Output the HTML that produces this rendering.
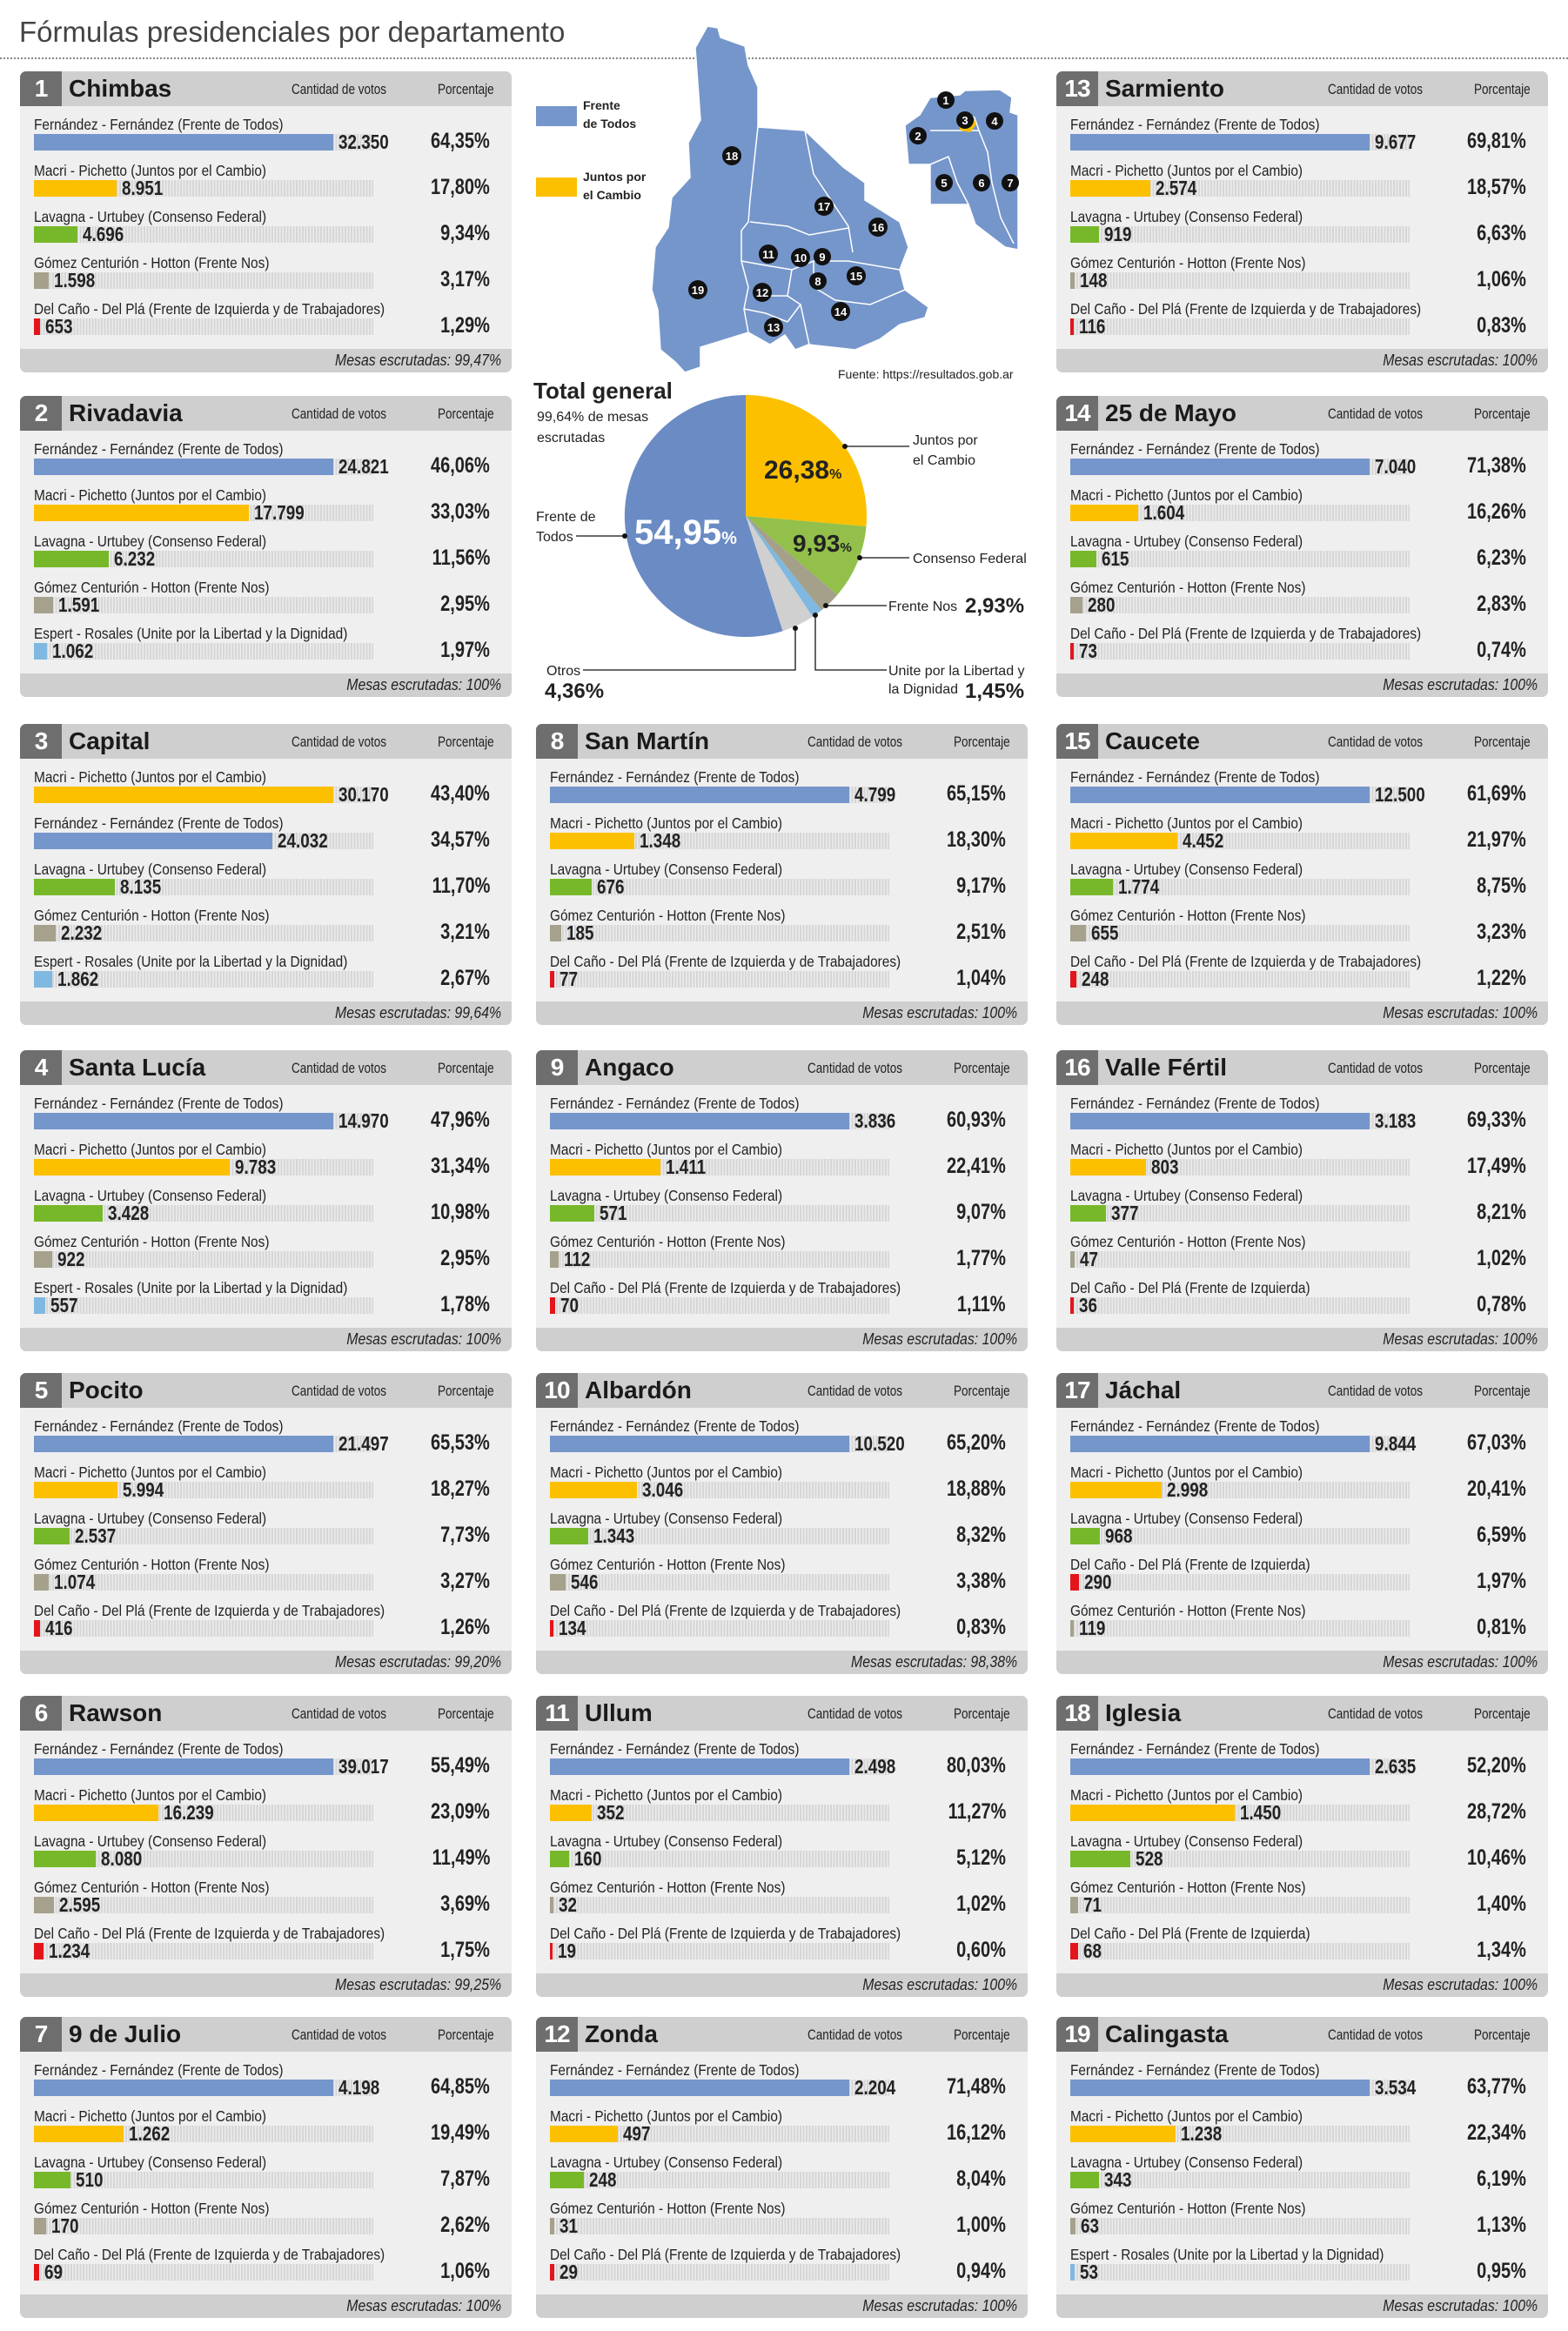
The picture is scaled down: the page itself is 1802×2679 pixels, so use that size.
<!DOCTYPE html>
<html><head><meta charset="utf-8">
<style>
*{margin:0;padding:0;box-sizing:border-box}
body{width:1802px;height:2679px;background:#fff;position:relative;font-family:"Liberation Sans",sans-serif;color:#222;overflow:hidden}
.title{position:absolute;left:22px;top:18px;font-size:33px;color:#444;white-space:nowrap}
.dots{position:absolute;left:0;top:66px;width:1802px;border-top:2px dotted #888}
.p{position:absolute;width:565px;height:346px;background:#efefef;border-radius:7px;overflow:hidden}
.h{position:absolute;left:0;top:0;width:565px;height:40px;background:#cfcfcf}
.n{position:absolute;left:0;top:0;width:48px;height:40px;background:#6e6e6e;color:#fff;font-weight:bold;font-size:28px;line-height:40px;text-align:center;letter-spacing:-1px}
.t{position:absolute;left:56px;top:0;line-height:40px;font-size:28px;font-weight:bold;color:#1a1a1a;white-space:nowrap}
.cv{position:absolute;left:312px;top:0;line-height:42px;font-size:16.5px;color:#222;transform:scaleX(.82);transform-origin:left;white-space:nowrap}
.pc{position:absolute;left:480px;top:0;line-height:42px;font-size:16.5px;color:#222;transform:scaleX(.82);transform-origin:left;white-space:nowrap}
.r{position:absolute;left:16px;width:524px;height:45px}
.l{position:absolute;left:0;top:-1px;font-size:17.5px;line-height:19px;white-space:nowrap;color:#222;transform:scaleX(.88);transform-origin:left}
.g{position:absolute;left:0;top:19px;width:390px;height:19px;background:repeating-linear-gradient(90deg,#d6d6d6 0 2px,#ececec 2px 3.5px)}
.b{position:absolute;left:0;top:19px;height:19px}
.v{position:absolute;top:16px;font-size:23px;font-weight:bold;line-height:25px;white-space:nowrap;color:#222;transform:scaleX(.82);transform-origin:left}
.q{position:absolute;right:0;top:13px;font-size:25px;font-weight:bold;line-height:28px;color:#222;transform:scaleX(.8);transform-origin:right;white-space:nowrap}
.f{position:absolute;left:0;bottom:0;width:565px;height:27px;background:#cfcfcf;font-style:italic;font-size:18px;line-height:27px;color:#222}
.f span{position:absolute;right:12px;top:0;transform:scaleX(.88);transform-origin:right;white-space:nowrap}
.cf{background:#7596cb}.cm{background:#fcc000}.cl{background:#77b82a}.cg{background:#a6a18c}.cd{background:#e3151b}.ce{background:#7fb8e0}
</style></head><body>
<div class="title">Fórmulas presidenciales por departamento</div>
<div class="dots"></div>

<svg style="position:absolute;left:0;top:0" width="1802" height="830">
<g fill="#7596cb" stroke="#fff" stroke-width="1.5">
<polygon points="813,30 825,32 828,43 856,53 860,75 871,100 871,146 925,150 969,192 994,210 994,230 1034,255 1044,284 1034,310 1040,333 1067,353 1063,365 1034,373 1011,390 983,402 929,396 914,402 902,385 885,396 860,382 805,399 805,422 787,428 776,416 759,402 756,356 749,333 753,284 768,261 772,227 793,204 791,164 805,138 799,55"/>
<polygon points="1069,112 1103,109 1109,104 1149,103 1163,112 1161,129 1170,132 1170,287 1155,284 1121,258 1113,235 1069,235 1069,189 1044,189 1040,144 1057,132"/>
</g>
<g fill="none" stroke="#fff" stroke-width="1.5">
<polyline points="871,146 862,230 860,255 852,265 852,300 860,330 855,355 860,382"/>
<polyline points="925,150 935,200 975,260 980,290"/>
<polyline points="862,255 905,260 930,270 975,262"/>
<polyline points="852,300 880,305 910,310 935,300 975,300 1034,310"/>
<polyline points="910,310 905,340 920,350 905,370"/>
<polyline points="935,300 935,330 960,345 1000,350 1040,333"/>
<polyline points="905,340 870,340"/>
<polyline points="920,350 930,396"/>
<polyline points="855,355 880,360 905,370"/>
<polyline points="1069,150 1100,150 1125,150 1135,175 1140,210 1150,250 1165,280"/>
<polyline points="1069,189 1090,180 1100,210 1113,235"/>
<polyline points="1125,150 1120,135 1109,130"/>
</g>
<polygon points="1100,140 1108,133 1118,135 1122,143 1115,152 1104,150" fill="#fcc000"/>
<g font-family="Liberation Sans" font-weight="bold" font-size="13" fill="#fff" text-anchor="middle">
<circle cx="841" cy="179" r="11" fill="#111"/><text x="841" y="184">18</text>
<circle cx="947" cy="237" r="11" fill="#111"/><text x="947" y="242">17</text>
<circle cx="1009" cy="261" r="11" fill="#111"/><text x="1009" y="266">16</text>
<circle cx="883" cy="292" r="11" fill="#111"/><text x="883" y="297">11</text>
<circle cx="920" cy="296" r="11" fill="#111"/><text x="920" y="301">10</text>
<circle cx="945" cy="295" r="10" fill="#111"/><text x="945" y="300">9</text>
<circle cx="940" cy="323" r="10" fill="#111"/><text x="940" y="328">8</text>
<circle cx="984" cy="317" r="11" fill="#111"/><text x="984" y="322">15</text>
<circle cx="876" cy="336" r="11" fill="#111"/><text x="876" y="341">12</text>
<circle cx="802" cy="333" r="11" fill="#111"/><text x="802" y="338">19</text>
<circle cx="966" cy="358" r="11" fill="#111"/><text x="966" y="363">14</text>
<circle cx="889" cy="376" r="11" fill="#111"/><text x="889" y="381">13</text>
<circle cx="1087" cy="115" r="10" fill="#111"/><text x="1087" y="120">1</text>
<circle cx="1055" cy="156" r="10" fill="#111"/><text x="1055" y="161">2</text>
<circle cx="1109" cy="138" r="10" fill="#111"/><text x="1109" y="143">3</text>
<circle cx="1143" cy="139" r="10" fill="#111"/><text x="1143" y="144">4</text>
<circle cx="1085" cy="210" r="10" fill="#111"/><text x="1085" y="215">5</text>
<circle cx="1128" cy="210" r="10" fill="#111"/><text x="1128" y="215">6</text>
<circle cx="1161" cy="210" r="10" fill="#111"/><text x="1161" y="215">7</text>
</g>
<rect x="616" y="122" width="47" height="23" fill="#7596cb"/>
<rect x="616" y="204" width="47" height="22" fill="#fcc000"/>
<g font-family="Liberation Sans" font-weight="bold" font-size="14" fill="#222">
<text x="670" y="126">Frente</text><text x="670" y="147">de Todos</text>
<text x="670" y="208">Juntos por</text><text x="670" y="229">el Cambio</text>
</g>
<text x="963" y="435" font-family="Liberation Sans" font-size="14" fill="#222">Fuente: https://resultados.gob.ar</text>
<path d="M857,593 L857,454 A139,139 0 0 1 995.5,605 Z" fill="#fcc000"/>
<path d="M857,593 L995.5,605 A139,139 0 0 1 962.3,683.7 Z" fill="#92c04a"/>
<path d="M857,593 L962.3,683.7 A139,139 0 0 1 944,701.4 Z" fill="#a4a08a"/>
<path d="M857,593 L944,701.4 A139,139 0 0 1 933.8,708.9 Z" fill="#7fb8e0"/>
<path d="M857,593 L933.8,708.9 A139,139 0 0 1 899.5,725.3 Z" fill="#d0d0d0"/>
<path d="M857,593 L899.5,725.3 A139,139 0 1 1 857,454 Z" fill="#6a8bc3"/>
<g stroke="#111" stroke-width="1.3" fill="none">
<polyline points="971,513 1045,513"/>
<polyline points="988,641 1045,641"/>
<polyline points="662,616 718,616"/>
<polyline points="949,696 1019,696"/>
<polyline points="937,707 937,770 1019,770"/>
<polyline points="914,722 914,770 670,770"/>
</g>
<g fill="#111"><circle cx="971" cy="513" r="3"/><circle cx="988" cy="641" r="3"/><circle cx="718" cy="616" r="3"/><circle cx="949" cy="696" r="3"/><circle cx="937" cy="707" r="3"/><circle cx="914" cy="722" r="3"/></g>
<g font-family="Liberation Sans" fill="#222">
<text x="613" y="458" font-size="26" font-weight="bold">Total general</text>
<text x="617" y="484" font-size="16">99,64% de mesas</text>
<text x="617" y="508" font-size="16">escrutadas</text>
<text x="1049" y="511" font-size="16">Juntos por</text>
<text x="1049" y="534" font-size="16">el Cambio</text>
<text x="1049" y="647" font-size="16">Consenso Federal</text>
<text x="616" y="599" font-size="16">Frente de</text>
<text x="616" y="622" font-size="16">Todos</text>
<text x="1021" y="702" font-size="16">Frente Nos</text>
<text x="1109" y="704" font-size="24" font-weight="bold">2,93%</text>
<text x="1021" y="776" font-size="16">Unite por la Libertad y</text>
<text x="1021" y="797" font-size="16">la Dignidad</text>
<text x="1109" y="802" font-size="24" font-weight="bold">1,45%</text>
<text x="628" y="776" font-size="16">Otros</text>
<text x="626" y="802" font-size="24" font-weight="bold">4,36%</text>
<text x="878" y="550" font-size="30" font-weight="bold">26,38<tspan font-size="16">%</tspan></text>
<text x="911" y="634" font-size="28" font-weight="bold">9,93<tspan font-size="15">%</tspan></text>
<text x="729" y="625" font-size="40" font-weight="bold" fill="#fff">54,95<tspan font-size="20">%</tspan></text>
</g>
</svg>

<div class="p" style="left:23px;top:82px"><div class="h"></div><div class="n">1</div><div class="t">Chimbas</div><div class="cv">Cantidad de votos</div><div class="pc">Porcentaje</div>
<div class="r" style="top:53px"><div class="l">Fernández - Fernández (Frente de Todos)</div><div class="g"></div><div class="b cf" style="width:344px"></div><div class="v" style="left:350px">32.350</div><div class="q">64,35%</div></div>
<div class="r" style="top:106px"><div class="l">Macri - Pichetto (Juntos por el Cambio)</div><div class="g"></div><div class="b cm" style="width:95px"></div><div class="v" style="left:101px">8.951</div><div class="q">17,80%</div></div>
<div class="r" style="top:159px"><div class="l">Lavagna - Urtubey (Consenso Federal)</div><div class="g"></div><div class="b cl" style="width:50px"></div><div class="v" style="left:56px">4.696</div><div class="q">9,34%</div></div>
<div class="r" style="top:212px"><div class="l">Gómez Centurión - Hotton (Frente Nos)</div><div class="g"></div><div class="b cg" style="width:17px"></div><div class="v" style="left:23px">1.598</div><div class="q">3,17%</div></div>
<div class="r" style="top:265px"><div class="l">Del Caño - Del Plá (Frente de Izquierda y de Trabajadores)</div><div class="g"></div><div class="b cd" style="width:7px"></div><div class="v" style="left:13px">653</div><div class="q">1,29%</div></div>
<div class="f"><span>Mesas escrutadas: 99,47%</span></div></div>

<div class="p" style="left:23px;top:455px"><div class="h"></div><div class="n">2</div><div class="t">Rivadavia</div><div class="cv">Cantidad de votos</div><div class="pc">Porcentaje</div>
<div class="r" style="top:53px"><div class="l">Fernández - Fernández (Frente de Todos)</div><div class="g"></div><div class="b cf" style="width:344px"></div><div class="v" style="left:350px">24.821</div><div class="q">46,06%</div></div>
<div class="r" style="top:106px"><div class="l">Macri - Pichetto (Juntos por el Cambio)</div><div class="g"></div><div class="b cm" style="width:247px"></div><div class="v" style="left:253px">17.799</div><div class="q">33,03%</div></div>
<div class="r" style="top:159px"><div class="l">Lavagna - Urtubey (Consenso Federal)</div><div class="g"></div><div class="b cl" style="width:86px"></div><div class="v" style="left:92px">6.232</div><div class="q">11,56%</div></div>
<div class="r" style="top:212px"><div class="l">Gómez Centurión - Hotton (Frente Nos)</div><div class="g"></div><div class="b cg" style="width:22px"></div><div class="v" style="left:28px">1.591</div><div class="q">2,95%</div></div>
<div class="r" style="top:265px"><div class="l">Espert - Rosales (Unite por la Libertad y la Dignidad)</div><div class="g"></div><div class="b ce" style="width:15px"></div><div class="v" style="left:21px">1.062</div><div class="q">1,97%</div></div>
<div class="f"><span>Mesas escrutadas: 100%</span></div></div>

<div class="p" style="left:23px;top:832px"><div class="h"></div><div class="n">3</div><div class="t">Capital</div><div class="cv">Cantidad de votos</div><div class="pc">Porcentaje</div>
<div class="r" style="top:53px"><div class="l">Macri - Pichetto (Juntos por el Cambio)</div><div class="g"></div><div class="b cm" style="width:344px"></div><div class="v" style="left:350px">30.170</div><div class="q">43,40%</div></div>
<div class="r" style="top:106px"><div class="l">Fernández - Fernández (Frente de Todos)</div><div class="g"></div><div class="b cf" style="width:274px"></div><div class="v" style="left:280px">24.032</div><div class="q">34,57%</div></div>
<div class="r" style="top:159px"><div class="l">Lavagna - Urtubey (Consenso Federal)</div><div class="g"></div><div class="b cl" style="width:93px"></div><div class="v" style="left:99px">8.135</div><div class="q">11,70%</div></div>
<div class="r" style="top:212px"><div class="l">Gómez Centurión - Hotton (Frente Nos)</div><div class="g"></div><div class="b cg" style="width:25px"></div><div class="v" style="left:31px">2.232</div><div class="q">3,21%</div></div>
<div class="r" style="top:265px"><div class="l">Espert - Rosales (Unite por la Libertad y la Dignidad)</div><div class="g"></div><div class="b ce" style="width:21px"></div><div class="v" style="left:27px">1.862</div><div class="q">2,67%</div></div>
<div class="f"><span>Mesas escrutadas: 99,64%</span></div></div>

<div class="p" style="left:23px;top:1207px"><div class="h"></div><div class="n">4</div><div class="t">Santa Lucía</div><div class="cv">Cantidad de votos</div><div class="pc">Porcentaje</div>
<div class="r" style="top:53px"><div class="l">Fernández - Fernández (Frente de Todos)</div><div class="g"></div><div class="b cf" style="width:344px"></div><div class="v" style="left:350px">14.970</div><div class="q">47,96%</div></div>
<div class="r" style="top:106px"><div class="l">Macri - Pichetto (Juntos por el Cambio)</div><div class="g"></div><div class="b cm" style="width:225px"></div><div class="v" style="left:231px">9.783</div><div class="q">31,34%</div></div>
<div class="r" style="top:159px"><div class="l">Lavagna - Urtubey (Consenso Federal)</div><div class="g"></div><div class="b cl" style="width:79px"></div><div class="v" style="left:85px">3.428</div><div class="q">10,98%</div></div>
<div class="r" style="top:212px"><div class="l">Gómez Centurión - Hotton (Frente Nos)</div><div class="g"></div><div class="b cg" style="width:21px"></div><div class="v" style="left:27px">922</div><div class="q">2,95%</div></div>
<div class="r" style="top:265px"><div class="l">Espert - Rosales (Unite por la Libertad y la Dignidad)</div><div class="g"></div><div class="b ce" style="width:13px"></div><div class="v" style="left:19px">557</div><div class="q">1,78%</div></div>
<div class="f"><span>Mesas escrutadas: 100%</span></div></div>

<div class="p" style="left:23px;top:1578px"><div class="h"></div><div class="n">5</div><div class="t">Pocito</div><div class="cv">Cantidad de votos</div><div class="pc">Porcentaje</div>
<div class="r" style="top:53px"><div class="l">Fernández - Fernández (Frente de Todos)</div><div class="g"></div><div class="b cf" style="width:344px"></div><div class="v" style="left:350px">21.497</div><div class="q">65,53%</div></div>
<div class="r" style="top:106px"><div class="l">Macri - Pichetto (Juntos por el Cambio)</div><div class="g"></div><div class="b cm" style="width:96px"></div><div class="v" style="left:102px">5.994</div><div class="q">18,27%</div></div>
<div class="r" style="top:159px"><div class="l">Lavagna - Urtubey (Consenso Federal)</div><div class="g"></div><div class="b cl" style="width:41px"></div><div class="v" style="left:47px">2.537</div><div class="q">7,73%</div></div>
<div class="r" style="top:212px"><div class="l">Gómez Centurión - Hotton (Frente Nos)</div><div class="g"></div><div class="b cg" style="width:17px"></div><div class="v" style="left:23px">1.074</div><div class="q">3,27%</div></div>
<div class="r" style="top:265px"><div class="l">Del Caño - Del Plá (Frente de Izquierda y de Trabajadores)</div><div class="g"></div><div class="b cd" style="width:7px"></div><div class="v" style="left:13px">416</div><div class="q">1,26%</div></div>
<div class="f"><span>Mesas escrutadas: 99,20%</span></div></div>

<div class="p" style="left:23px;top:1949px"><div class="h"></div><div class="n">6</div><div class="t">Rawson</div><div class="cv">Cantidad de votos</div><div class="pc">Porcentaje</div>
<div class="r" style="top:53px"><div class="l">Fernández - Fernández (Frente de Todos)</div><div class="g"></div><div class="b cf" style="width:344px"></div><div class="v" style="left:350px">39.017</div><div class="q">55,49%</div></div>
<div class="r" style="top:106px"><div class="l">Macri - Pichetto (Juntos por el Cambio)</div><div class="g"></div><div class="b cm" style="width:143px"></div><div class="v" style="left:149px">16.239</div><div class="q">23,09%</div></div>
<div class="r" style="top:159px"><div class="l">Lavagna - Urtubey (Consenso Federal)</div><div class="g"></div><div class="b cl" style="width:71px"></div><div class="v" style="left:77px">8.080</div><div class="q">11,49%</div></div>
<div class="r" style="top:212px"><div class="l">Gómez Centurión - Hotton (Frente Nos)</div><div class="g"></div><div class="b cg" style="width:23px"></div><div class="v" style="left:29px">2.595</div><div class="q">3,69%</div></div>
<div class="r" style="top:265px"><div class="l">Del Caño - Del Plá (Frente de Izquierda y de Trabajadores)</div><div class="g"></div><div class="b cd" style="width:11px"></div><div class="v" style="left:17px">1.234</div><div class="q">1,75%</div></div>
<div class="f"><span>Mesas escrutadas: 99,25%</span></div></div>

<div class="p" style="left:23px;top:2318px"><div class="h"></div><div class="n">7</div><div class="t">9 de Julio</div><div class="cv">Cantidad de votos</div><div class="pc">Porcentaje</div>
<div class="r" style="top:53px"><div class="l">Fernández - Fernández (Frente de Todos)</div><div class="g"></div><div class="b cf" style="width:344px"></div><div class="v" style="left:350px">4.198</div><div class="q">64,85%</div></div>
<div class="r" style="top:106px"><div class="l">Macri - Pichetto (Juntos por el Cambio)</div><div class="g"></div><div class="b cm" style="width:103px"></div><div class="v" style="left:109px">1.262</div><div class="q">19,49%</div></div>
<div class="r" style="top:159px"><div class="l">Lavagna - Urtubey (Consenso Federal)</div><div class="g"></div><div class="b cl" style="width:42px"></div><div class="v" style="left:48px">510</div><div class="q">7,87%</div></div>
<div class="r" style="top:212px"><div class="l">Gómez Centurión - Hotton (Frente Nos)</div><div class="g"></div><div class="b cg" style="width:14px"></div><div class="v" style="left:20px">170</div><div class="q">2,62%</div></div>
<div class="r" style="top:265px"><div class="l">Del Caño - Del Plá (Frente de Izquierda y de Trabajadores)</div><div class="g"></div><div class="b cd" style="width:6px"></div><div class="v" style="left:12px">69</div><div class="q">1,06%</div></div>
<div class="f"><span>Mesas escrutadas: 100%</span></div></div>

<div class="p" style="left:616px;top:832px"><div class="h"></div><div class="n">8</div><div class="t">San Martín</div><div class="cv">Cantidad de votos</div><div class="pc">Porcentaje</div>
<div class="r" style="top:53px"><div class="l">Fernández - Fernández (Frente de Todos)</div><div class="g"></div><div class="b cf" style="width:344px"></div><div class="v" style="left:350px">4.799</div><div class="q">65,15%</div></div>
<div class="r" style="top:106px"><div class="l">Macri - Pichetto (Juntos por el Cambio)</div><div class="g"></div><div class="b cm" style="width:97px"></div><div class="v" style="left:103px">1.348</div><div class="q">18,30%</div></div>
<div class="r" style="top:159px"><div class="l">Lavagna - Urtubey (Consenso Federal)</div><div class="g"></div><div class="b cl" style="width:48px"></div><div class="v" style="left:54px">676</div><div class="q">9,17%</div></div>
<div class="r" style="top:212px"><div class="l">Gómez Centurión - Hotton (Frente Nos)</div><div class="g"></div><div class="b cg" style="width:13px"></div><div class="v" style="left:19px">185</div><div class="q">2,51%</div></div>
<div class="r" style="top:265px"><div class="l">Del Caño - Del Plá (Frente de Izquierda y de Trabajadores)</div><div class="g"></div><div class="b cd" style="width:5px"></div><div class="v" style="left:11px">77</div><div class="q">1,04%</div></div>
<div class="f"><span>Mesas escrutadas: 100%</span></div></div>

<div class="p" style="left:616px;top:1207px"><div class="h"></div><div class="n">9</div><div class="t">Angaco</div><div class="cv">Cantidad de votos</div><div class="pc">Porcentaje</div>
<div class="r" style="top:53px"><div class="l">Fernández - Fernández (Frente de Todos)</div><div class="g"></div><div class="b cf" style="width:344px"></div><div class="v" style="left:350px">3.836</div><div class="q">60,93%</div></div>
<div class="r" style="top:106px"><div class="l">Macri - Pichetto (Juntos por el Cambio)</div><div class="g"></div><div class="b cm" style="width:127px"></div><div class="v" style="left:133px">1.411</div><div class="q">22,41%</div></div>
<div class="r" style="top:159px"><div class="l">Lavagna - Urtubey (Consenso Federal)</div><div class="g"></div><div class="b cl" style="width:51px"></div><div class="v" style="left:57px">571</div><div class="q">9,07%</div></div>
<div class="r" style="top:212px"><div class="l">Gómez Centurión - Hotton (Frente Nos)</div><div class="g"></div><div class="b cg" style="width:10px"></div><div class="v" style="left:16px">112</div><div class="q">1,77%</div></div>
<div class="r" style="top:265px"><div class="l">Del Caño - Del Plá (Frente de Izquierda y de Trabajadores)</div><div class="g"></div><div class="b cd" style="width:6px"></div><div class="v" style="left:12px">70</div><div class="q">1,11%</div></div>
<div class="f"><span>Mesas escrutadas: 100%</span></div></div>

<div class="p" style="left:616px;top:1578px"><div class="h"></div><div class="n">10</div><div class="t">Albardón</div><div class="cv">Cantidad de votos</div><div class="pc">Porcentaje</div>
<div class="r" style="top:53px"><div class="l">Fernández - Fernández (Frente de Todos)</div><div class="g"></div><div class="b cf" style="width:344px"></div><div class="v" style="left:350px">10.520</div><div class="q">65,20%</div></div>
<div class="r" style="top:106px"><div class="l">Macri - Pichetto (Juntos por el Cambio)</div><div class="g"></div><div class="b cm" style="width:100px"></div><div class="v" style="left:106px">3.046</div><div class="q">18,88%</div></div>
<div class="r" style="top:159px"><div class="l">Lavagna - Urtubey (Consenso Federal)</div><div class="g"></div><div class="b cl" style="width:44px"></div><div class="v" style="left:50px">1.343</div><div class="q">8,32%</div></div>
<div class="r" style="top:212px"><div class="l">Gómez Centurión - Hotton (Frente Nos)</div><div class="g"></div><div class="b cg" style="width:18px"></div><div class="v" style="left:24px">546</div><div class="q">3,38%</div></div>
<div class="r" style="top:265px"><div class="l">Del Caño - Del Plá (Frente de Izquierda y de Trabajadores)</div><div class="g"></div><div class="b cd" style="width:4px"></div><div class="v" style="left:10px">134</div><div class="q">0,83%</div></div>
<div class="f"><span>Mesas escrutadas: 98,38%</span></div></div>

<div class="p" style="left:616px;top:1949px"><div class="h"></div><div class="n">11</div><div class="t">Ullum</div><div class="cv">Cantidad de votos</div><div class="pc">Porcentaje</div>
<div class="r" style="top:53px"><div class="l">Fernández - Fernández (Frente de Todos)</div><div class="g"></div><div class="b cf" style="width:344px"></div><div class="v" style="left:350px">2.498</div><div class="q">80,03%</div></div>
<div class="r" style="top:106px"><div class="l">Macri - Pichetto (Juntos por el Cambio)</div><div class="g"></div><div class="b cm" style="width:48px"></div><div class="v" style="left:54px">352</div><div class="q">11,27%</div></div>
<div class="r" style="top:159px"><div class="l">Lavagna - Urtubey (Consenso Federal)</div><div class="g"></div><div class="b cl" style="width:22px"></div><div class="v" style="left:28px">160</div><div class="q">5,12%</div></div>
<div class="r" style="top:212px"><div class="l">Gómez Centurión - Hotton (Frente Nos)</div><div class="g"></div><div class="b cg" style="width:4px"></div><div class="v" style="left:10px">32</div><div class="q">1,02%</div></div>
<div class="r" style="top:265px"><div class="l">Del Caño - Del Plá (Frente de Izquierda y de Trabajadores)</div><div class="g"></div><div class="b cd" style="width:3px"></div><div class="v" style="left:9px">19</div><div class="q">0,60%</div></div>
<div class="f"><span>Mesas escrutadas: 100%</span></div></div>

<div class="p" style="left:616px;top:2318px"><div class="h"></div><div class="n">12</div><div class="t">Zonda</div><div class="cv">Cantidad de votos</div><div class="pc">Porcentaje</div>
<div class="r" style="top:53px"><div class="l">Fernández - Fernández (Frente de Todos)</div><div class="g"></div><div class="b cf" style="width:344px"></div><div class="v" style="left:350px">2.204</div><div class="q">71,48%</div></div>
<div class="r" style="top:106px"><div class="l">Macri - Pichetto (Juntos por el Cambio)</div><div class="g"></div><div class="b cm" style="width:78px"></div><div class="v" style="left:84px">497</div><div class="q">16,12%</div></div>
<div class="r" style="top:159px"><div class="l">Lavagna - Urtubey (Consenso Federal)</div><div class="g"></div><div class="b cl" style="width:39px"></div><div class="v" style="left:45px">248</div><div class="q">8,04%</div></div>
<div class="r" style="top:212px"><div class="l">Gómez Centurión - Hotton (Frente Nos)</div><div class="g"></div><div class="b cg" style="width:5px"></div><div class="v" style="left:11px">31</div><div class="q">1,00%</div></div>
<div class="r" style="top:265px"><div class="l">Del Caño - Del Plá (Frente de Izquierda y de Trabajadores)</div><div class="g"></div><div class="b cd" style="width:5px"></div><div class="v" style="left:11px">29</div><div class="q">0,94%</div></div>
<div class="f"><span>Mesas escrutadas: 100%</span></div></div>

<div class="p" style="left:1214px;top:82px"><div class="h"></div><div class="n">13</div><div class="t">Sarmiento</div><div class="cv">Cantidad de votos</div><div class="pc">Porcentaje</div>
<div class="r" style="top:53px"><div class="l">Fernández - Fernández (Frente de Todos)</div><div class="g"></div><div class="b cf" style="width:344px"></div><div class="v" style="left:350px">9.677</div><div class="q">69,81%</div></div>
<div class="r" style="top:106px"><div class="l">Macri - Pichetto (Juntos por el Cambio)</div><div class="g"></div><div class="b cm" style="width:92px"></div><div class="v" style="left:98px">2.574</div><div class="q">18,57%</div></div>
<div class="r" style="top:159px"><div class="l">Lavagna - Urtubey (Consenso Federal)</div><div class="g"></div><div class="b cl" style="width:33px"></div><div class="v" style="left:39px">919</div><div class="q">6,63%</div></div>
<div class="r" style="top:212px"><div class="l">Gómez Centurión - Hotton (Frente Nos)</div><div class="g"></div><div class="b cg" style="width:5px"></div><div class="v" style="left:11px">148</div><div class="q">1,06%</div></div>
<div class="r" style="top:265px"><div class="l">Del Caño - Del Plá (Frente de Izquierda y de Trabajadores)</div><div class="g"></div><div class="b cd" style="width:4px"></div><div class="v" style="left:10px">116</div><div class="q">0,83%</div></div>
<div class="f"><span>Mesas escrutadas: 100%</span></div></div>

<div class="p" style="left:1214px;top:455px"><div class="h"></div><div class="n">14</div><div class="t">25 de Mayo</div><div class="cv">Cantidad de votos</div><div class="pc">Porcentaje</div>
<div class="r" style="top:53px"><div class="l">Fernández - Fernández (Frente de Todos)</div><div class="g"></div><div class="b cf" style="width:344px"></div><div class="v" style="left:350px">7.040</div><div class="q">71,38%</div></div>
<div class="r" style="top:106px"><div class="l">Macri - Pichetto (Juntos por el Cambio)</div><div class="g"></div><div class="b cm" style="width:78px"></div><div class="v" style="left:84px">1.604</div><div class="q">16,26%</div></div>
<div class="r" style="top:159px"><div class="l">Lavagna - Urtubey (Consenso Federal)</div><div class="g"></div><div class="b cl" style="width:30px"></div><div class="v" style="left:36px">615</div><div class="q">6,23%</div></div>
<div class="r" style="top:212px"><div class="l">Gómez Centurión - Hotton (Frente Nos)</div><div class="g"></div><div class="b cg" style="width:14px"></div><div class="v" style="left:20px">280</div><div class="q">2,83%</div></div>
<div class="r" style="top:265px"><div class="l">Del Caño - Del Plá (Frente de Izquierda y de Trabajadores)</div><div class="g"></div><div class="b cd" style="width:4px"></div><div class="v" style="left:10px">73</div><div class="q">0,74%</div></div>
<div class="f"><span>Mesas escrutadas: 100%</span></div></div>

<div class="p" style="left:1214px;top:832px"><div class="h"></div><div class="n">15</div><div class="t">Caucete</div><div class="cv">Cantidad de votos</div><div class="pc">Porcentaje</div>
<div class="r" style="top:53px"><div class="l">Fernández - Fernández (Frente de Todos)</div><div class="g"></div><div class="b cf" style="width:344px"></div><div class="v" style="left:350px">12.500</div><div class="q">61,69%</div></div>
<div class="r" style="top:106px"><div class="l">Macri - Pichetto (Juntos por el Cambio)</div><div class="g"></div><div class="b cm" style="width:123px"></div><div class="v" style="left:129px">4.452</div><div class="q">21,97%</div></div>
<div class="r" style="top:159px"><div class="l">Lavagna - Urtubey (Consenso Federal)</div><div class="g"></div><div class="b cl" style="width:49px"></div><div class="v" style="left:55px">1.774</div><div class="q">8,75%</div></div>
<div class="r" style="top:212px"><div class="l">Gómez Centurión - Hotton (Frente Nos)</div><div class="g"></div><div class="b cg" style="width:18px"></div><div class="v" style="left:24px">655</div><div class="q">3,23%</div></div>
<div class="r" style="top:265px"><div class="l">Del Caño - Del Plá (Frente de Izquierda y de Trabajadores)</div><div class="g"></div><div class="b cd" style="width:7px"></div><div class="v" style="left:13px">248</div><div class="q">1,22%</div></div>
<div class="f"><span>Mesas escrutadas: 100%</span></div></div>

<div class="p" style="left:1214px;top:1207px"><div class="h"></div><div class="n">16</div><div class="t">Valle Fértil</div><div class="cv">Cantidad de votos</div><div class="pc">Porcentaje</div>
<div class="r" style="top:53px"><div class="l">Fernández - Fernández (Frente de Todos)</div><div class="g"></div><div class="b cf" style="width:344px"></div><div class="v" style="left:350px">3.183</div><div class="q">69,33%</div></div>
<div class="r" style="top:106px"><div class="l">Macri - Pichetto (Juntos por el Cambio)</div><div class="g"></div><div class="b cm" style="width:87px"></div><div class="v" style="left:93px">803</div><div class="q">17,49%</div></div>
<div class="r" style="top:159px"><div class="l">Lavagna - Urtubey (Consenso Federal)</div><div class="g"></div><div class="b cl" style="width:41px"></div><div class="v" style="left:47px">377</div><div class="q">8,21%</div></div>
<div class="r" style="top:212px"><div class="l">Gómez Centurión - Hotton (Frente Nos)</div><div class="g"></div><div class="b cg" style="width:5px"></div><div class="v" style="left:11px">47</div><div class="q">1,02%</div></div>
<div class="r" style="top:265px"><div class="l">Del Caño - Del Plá (Frente de Izquierda)</div><div class="g"></div><div class="b cd" style="width:4px"></div><div class="v" style="left:10px">36</div><div class="q">0,78%</div></div>
<div class="f"><span>Mesas escrutadas: 100%</span></div></div>

<div class="p" style="left:1214px;top:1578px"><div class="h"></div><div class="n">17</div><div class="t">Jáchal</div><div class="cv">Cantidad de votos</div><div class="pc">Porcentaje</div>
<div class="r" style="top:53px"><div class="l">Fernández - Fernández (Frente de Todos)</div><div class="g"></div><div class="b cf" style="width:344px"></div><div class="v" style="left:350px">9.844</div><div class="q">67,03%</div></div>
<div class="r" style="top:106px"><div class="l">Macri - Pichetto (Juntos por el Cambio)</div><div class="g"></div><div class="b cm" style="width:105px"></div><div class="v" style="left:111px">2.998</div><div class="q">20,41%</div></div>
<div class="r" style="top:159px"><div class="l">Lavagna - Urtubey (Consenso Federal)</div><div class="g"></div><div class="b cl" style="width:34px"></div><div class="v" style="left:40px">968</div><div class="q">6,59%</div></div>
<div class="r" style="top:212px"><div class="l">Del Caño - Del Plá (Frente de Izquierda)</div><div class="g"></div><div class="b cd" style="width:10px"></div><div class="v" style="left:16px">290</div><div class="q">1,97%</div></div>
<div class="r" style="top:265px"><div class="l">Gómez Centurión - Hotton (Frente Nos)</div><div class="g"></div><div class="b cg" style="width:4px"></div><div class="v" style="left:10px">119</div><div class="q">0,81%</div></div>
<div class="f"><span>Mesas escrutadas: 100%</span></div></div>

<div class="p" style="left:1214px;top:1949px"><div class="h"></div><div class="n">18</div><div class="t">Iglesia</div><div class="cv">Cantidad de votos</div><div class="pc">Porcentaje</div>
<div class="r" style="top:53px"><div class="l">Fernández - Fernández (Frente de Todos)</div><div class="g"></div><div class="b cf" style="width:344px"></div><div class="v" style="left:350px">2.635</div><div class="q">52,20%</div></div>
<div class="r" style="top:106px"><div class="l">Macri - Pichetto (Juntos por el Cambio)</div><div class="g"></div><div class="b cm" style="width:189px"></div><div class="v" style="left:195px">1.450</div><div class="q">28,72%</div></div>
<div class="r" style="top:159px"><div class="l">Lavagna - Urtubey (Consenso Federal)</div><div class="g"></div><div class="b cl" style="width:69px"></div><div class="v" style="left:75px">528</div><div class="q">10,46%</div></div>
<div class="r" style="top:212px"><div class="l">Gómez Centurión - Hotton (Frente Nos)</div><div class="g"></div><div class="b cg" style="width:9px"></div><div class="v" style="left:15px">71</div><div class="q">1,40%</div></div>
<div class="r" style="top:265px"><div class="l">Del Caño - Del Plá (Frente de Izquierda)</div><div class="g"></div><div class="b cd" style="width:9px"></div><div class="v" style="left:15px">68</div><div class="q">1,34%</div></div>
<div class="f"><span>Mesas escrutadas: 100%</span></div></div>

<div class="p" style="left:1214px;top:2318px"><div class="h"></div><div class="n">19</div><div class="t">Calingasta</div><div class="cv">Cantidad de votos</div><div class="pc">Porcentaje</div>
<div class="r" style="top:53px"><div class="l">Fernández - Fernández (Frente de Todos)</div><div class="g"></div><div class="b cf" style="width:344px"></div><div class="v" style="left:350px">3.534</div><div class="q">63,77%</div></div>
<div class="r" style="top:106px"><div class="l">Macri - Pichetto (Juntos por el Cambio)</div><div class="g"></div><div class="b cm" style="width:121px"></div><div class="v" style="left:127px">1.238</div><div class="q">22,34%</div></div>
<div class="r" style="top:159px"><div class="l">Lavagna - Urtubey (Consenso Federal)</div><div class="g"></div><div class="b cl" style="width:33px"></div><div class="v" style="left:39px">343</div><div class="q">6,19%</div></div>
<div class="r" style="top:212px"><div class="l">Gómez Centurión - Hotton (Frente Nos)</div><div class="g"></div><div class="b cg" style="width:6px"></div><div class="v" style="left:12px">63</div><div class="q">1,13%</div></div>
<div class="r" style="top:265px"><div class="l">Espert - Rosales (Unite por la Libertad y la Dignidad)</div><div class="g"></div><div class="b ce" style="width:5px"></div><div class="v" style="left:11px">53</div><div class="q">0,95%</div></div>
<div class="f"><span>Mesas escrutadas: 100%</span></div></div>

</body></html>
